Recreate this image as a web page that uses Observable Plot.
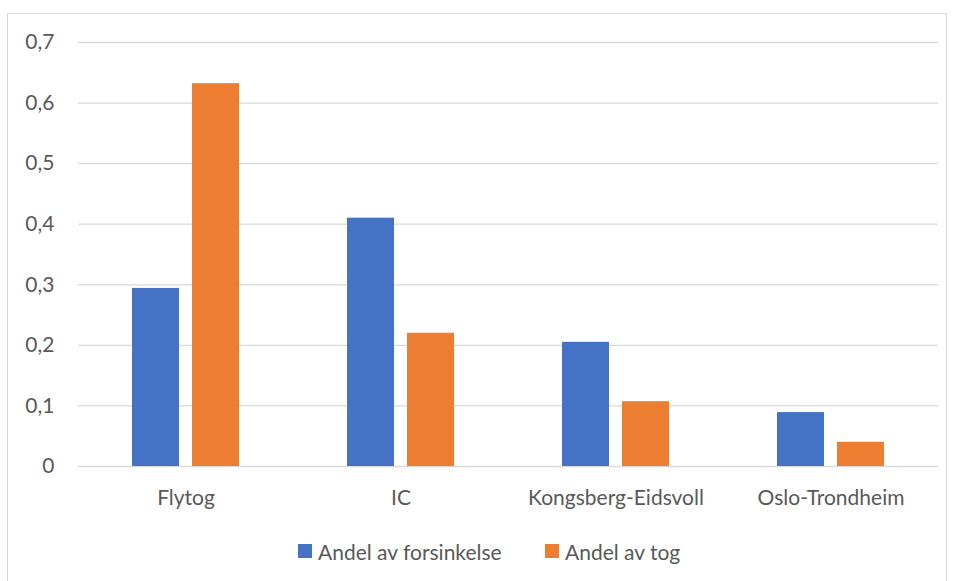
<!DOCTYPE html>
<html>
<head>
<meta charset="utf-8">
<script src="https://cdn.jsdelivr.net/npm/d3@7"></script>
<script src="https://cdn.jsdelivr.net/npm/@observablehq/plot@0.6"></script>
<style>
  html, body { margin: 0; padding: 0; background: #fff; width: 956px; height: 581px; overflow: hidden; }
  body { position: relative; font-family: Lato, "Open Sans", sans-serif; color: #595959; }
  #frame { position: absolute; left: 7px; top: 13px; width: 940px; height: 600px; border: 1px solid #d9d9d9; box-sizing: border-box; }
  #chart { position: absolute; left: 0; top: 0; }
  #legend { position: absolute; left: 0; top: 540px; width: 956px; font-size: 21px; }
  .item { position: absolute; top: 0; display: flex; align-items: center; height: 22px; }
  .sw { width: 14px; height: 14px; margin-right: 6px; }
</style>
</head>
<body>
<div id="frame"></div>
<div id="chart"></div>
<div id="legend"></div>
<script>
const categories = ["Flytog", "IC", "Kongsberg-Eidsvoll", "Oslo-Trondheim"];
const seriesNames = ["Andel av forsinkelse", "Andel av tog"];
const forsinkelse = [0.294, 0.410, 0.205, 0.089];
const tog = [0.632, 0.220, 0.107, 0.040];
const yTicks = [0, 0.1, 0.2, 0.3, 0.4, 0.5, 0.6, 0.7];
const colors = ["#4472C4", "#ED7D31"];

const data = [];
categories.forEach((c, i) => {
  data.push({category: c, series: seriesNames[0], value: forsinkelse[i]});
  data.push({category: c, series: seriesNames[1], value: tog[i]});
});

const fmt = d => String(d).replace(".", ",");

const plot = Plot.plot({
  width: 956,
  height: 525,
  marginLeft: 77,
  marginRight: 18,
  marginTop: 42,
  marginBottom: 59,
  style: {fontFamily: "Lato, 'Open Sans', sans-serif", fontSize: "21px", color: "#595959", background: "transparent"},
  fx: {domain: categories, padding: 0, label: null, tickSize: 0, tickPadding: 24},
  x: {domain: seriesNames, paddingInner: 0.213, paddingOuter: 0.869, axis: null},
  y: {domain: [0, 0.7], axis: null},
  color: {domain: seriesNames, range: colors},
  marks: [
    Plot.ruleY(yTicks, {stroke: "#d9d9d9", strokeWidth: 1.3}),
    Plot.barY(data, {fx: "category", x: "series", y: "value", fill: "series"}),
    Plot.axisY({ticks: yTicks, tickSize: 0, tickPadding: 24, tickFormat: fmt, label: null, fill: "#595959"})
  ]
});
document.getElementById("chart").appendChild(plot);

const legend = document.getElementById("legend");
const lefts = [298, 545];
seriesNames.forEach((s, i) => {
  const it = document.createElement("div");
  it.className = "item";
  it.style.left = lefts[i] + "px";
  const sw = document.createElement("div");
  sw.className = "sw";
  sw.style.background = colors[i];
  it.appendChild(sw);
  const t = document.createElement("span");
  t.textContent = s;
  it.appendChild(t);
  legend.appendChild(it);
});
</script>
</body>
</html>
